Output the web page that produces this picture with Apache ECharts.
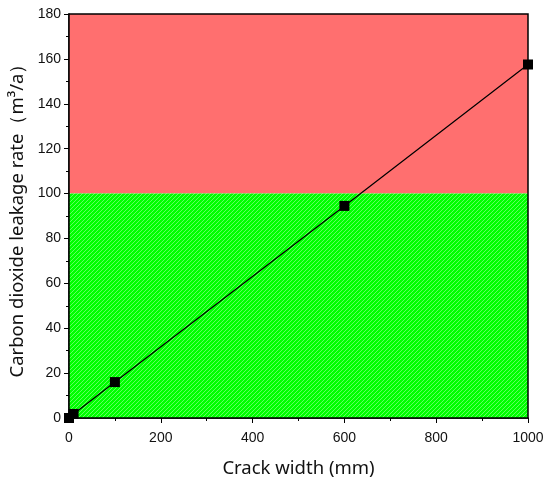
<!DOCTYPE html>
<html><head><meta charset="utf-8">
<script src="https://cdn.jsdelivr.net/npm/echarts@6/dist/echarts.min.js"></script>
<style>html,body{margin:0;padding:0;background:#fff}#c{width:543px;height:487px}</style>
</head><body><div id="c"></div>
<script>
const crackWidth = [0, 10, 100, 600, 1000];
const leakageRate = [0, 1.8, 16.0, 94.5, 157.5];
const xTicks = [0, 200, 400, 600, 800, 1000];
const yTicks = [0, 20, 40, 60, 80, 100, 120, 140, 160, 180];
const threshold = 100;

function hatch(bg, line) {
  const n = 4;
  const c = document.createElement('canvas');
  c.width = n; c.height = n;
  const g = c.getContext('2d');
  g.fillStyle = bg; g.fillRect(0, 0, n, n);
  g.fillStyle = line;
  for (let i = 0; i < n; i++) g.fillRect(i, n - 1 - i, 1, 1);
  return c;
}

const chart = echarts.init(document.getElementById('c'));
chart.setOption({
  animation: false,
  grid: { left: 69, right: 15, top: 14, bottom: 69, containLabel: false, outerBoundsMode: 'none' },
  xAxis: {
    type: 'value', min: 0, max: 1000, interval: 200,
    name: 'Crack width (mm)', nameLocation: 'middle', nameGap: 41,
    nameTextStyle: { fontFamily: 'Noto Sans', fontSize: 18.5, color: '#111' },
    axisLine: { show: true, lineStyle: { color: '#000', width: 1.5 } },
    axisTick: { show: true, inside: false, length: 5, lineStyle: { color: '#000' } },
    minorTick: { show: true, splitNumber: 2, length: 3, lineStyle: { color: '#000' } },
    axisLabel: { fontFamily: 'Liberation Sans', fontSize: 14, color: '#111', margin: 13,
      formatter: v => String(v), showMaxLabel: true },
    splitLine: { show: false }
  },
  yAxis: {
    type: 'value', min: 0, max: 180, interval: 20,
    name: 'Carbon dioxide leakage rate（m³/a）', nameLocation: 'middle', nameGap: 39,
    nameTextStyle: { fontFamily: 'Noto Sans', fontSize: 18.5, color: '#111' },
    axisLine: { show: true, lineStyle: { color: '#000', width: 1.5 } },
    axisTick: { show: true, inside: false, length: 5, lineStyle: { color: '#000' } },
    minorTick: { show: true, splitNumber: 2, length: 3, lineStyle: { color: '#000' } },
    axisLabel: { fontFamily: 'Liberation Sans', fontSize: 14, color: '#111', margin: 8,
      formatter: v => String(v) },
    splitLine: { show: false }
  },
  series: [
    {
      type: 'line',
      data: crackWidth.map((x, i) => [x, leakageRate[i]]),
      symbol: 'rect', symbolSize: 10,
      itemStyle: { color: '#000' },
      lineStyle: { color: '#000', width: 1.2 },
      z: 5,
      markArea: {
        silent: true,
        data: [
          [{ xAxis: 0, yAxis: threshold, itemStyle: { color: '#FF6F6F' } }, { xAxis: 1000, yAxis: 180 }],
          [{ xAxis: 0, yAxis: 0, itemStyle: { color: { image: hatch('#00FF00', '#60FF60'), repeat: 'repeat' } } }, { xAxis: 1000, yAxis: threshold }]
        ]
      }
    }
  ],
  graphic: [{
    type: 'rect', shape: { x: 69, y: 14, width: 459, height: 404 },
    style: { fill: 'none', stroke: '#000', lineWidth: 1.5 }, z: 100, silent: true
  }]
});
</script></body></html>
